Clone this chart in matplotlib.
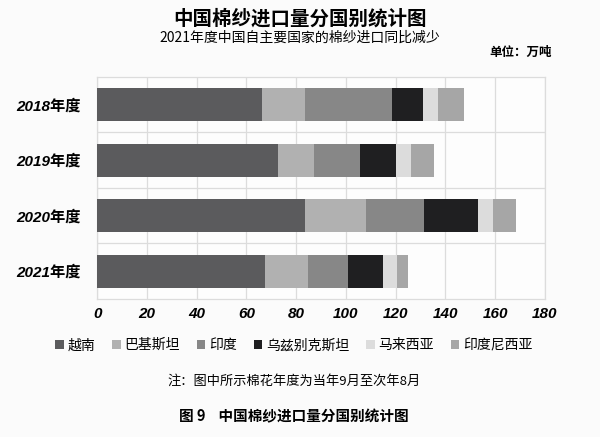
import matplotlib
matplotlib.use('Agg')
import matplotlib.pyplot as plt
import numpy as np

plt.rcParams['font.family'] = ['Noto Sans CJK SC', 'DejaVu Sans']

# data (万吨)
years = ['2018年度', '2019年度', '2020年度', '2021年度']
countries = ['越南', '巴基斯坦', '印度', '乌兹别克斯坦', '马来西亚', '印度尼西亚']
vietnam = [66.4, 72.7, 83.7, 67.4]
pakistan = [17.3, 14.3, 24.4, 17.5]
india = [34.8, 18.5, 23.4, 16.0]
uzbek = [12.7, 14.6, 21.6, 14.1]
malaysia = [5.7, 5.9, 6.2, 5.4]
indonesia = [10.7, 9.4, 9.3, 4.7]
colors = ['#5b5b5d', '#b1b1b1', '#878787', '#1f1f21', '#dcdcdc', '#a6a6a6']

series = [vietnam, pakistan, india, uzbek, malaysia, indonesia]

fig = plt.figure(figsize=(6, 4.37), dpi=100)
fig.patch.set_facecolor('#fbfbfb')
ax = fig.add_axes([0.162, 0.316, 0.746, 0.508])
ax.set_facecolor('#fdfdfd')

y = np.arange(len(years))
left = np.zeros(len(years))
for vals, name, c in zip(series, countries, colors):
    ax.barh(y, vals, left=left, height=0.6, color=c, label=name, zorder=3)
    left += np.array(vals)

ax.set_xlim(0, 180)
ax.set_ylim(3.5, -0.5)
ax.set_xticks(np.arange(0, 181, 20))
ax.set_yticks(y)
ax.set_yticklabels(years, fontsize=11, fontweight='bold', style='italic',
                   family=['Liberation Sans', 'Noto Sans CJK SC'])
for lab in ax.get_xticklabels():
    lab.set_family(['Liberation Sans', 'DejaVu Sans'])
    lab.set_fontweight('bold')
    lab.set_style('italic')
    lab.set_fontsize(11)
ax.tick_params(length=0, pad=6)
ax.tick_params(axis='y', pad=12)

# grid: vertical at ticks, horizontal between categories
ax.grid(axis='x', color='#dcdcdc', linewidth=0.9, zorder=0)
for b in [0.5, 1.5, 2.5]:
    ax.axhline(b, color='#dcdcdc', linewidth=0.9, zorder=0)
for s in ax.spines.values():
    s.set_color('#dcdcdc')
    s.set_linewidth(0.9)

fig.text(0.5, 0.958, '中国棉纱进口量分国别统计图', ha='center', va='center',
         fontsize=14, fontweight='bold')
fig.text(0.5, 0.913, '2021年度中国自主要国家的棉纱进口同比减少', ha='center',
         va='center', fontsize=10)
fig.text(0.868, 0.879, '单位：万吨', ha='center', va='center', fontsize=9,
         fontweight='bold')

fig.legend(loc='center', bbox_to_anchor=(0.49, 0.21), ncol=6, frameon=False,
           fontsize=10, handlelength=0.6, handleheight=0.6, handletextpad=0.3,
           columnspacing=1.2)

fig.text(0.49, 0.128, '注：图中所示棉花年度为当年9月至次年8月', ha='center',
         va='center', fontsize=9.5)
fig.text(0.49, 0.048, '图 9    中国棉纱进口量分国别统计图', ha='center',
         va='center', fontsize=10.5, fontweight='bold')

fig.savefig('out.png', dpi=100, facecolor=fig.get_facecolor())
